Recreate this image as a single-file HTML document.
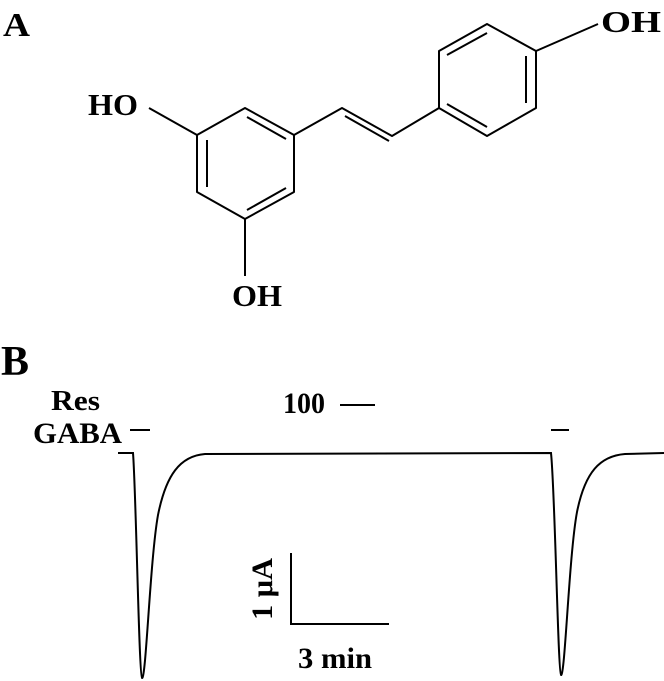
<!DOCTYPE html>
<html><head><style>
html,body{margin:0;padding:0;background:#fff;overflow:hidden}
svg{display:block}
text{font-family:"Liberation Serif","Times New Roman",serif;font-weight:bold;fill:#000}
</style></head><body>
<svg width="664" height="681" viewBox="0 0 664 681">
<text x="3" y="36" font-size="34" textLength="27" lengthAdjust="spacingAndGlyphs">A</text>
<text x="1" y="375" font-size="42" textLength="28" lengthAdjust="spacingAndGlyphs">B</text>
<g stroke="#000" stroke-width="2" fill="none" stroke-linejoin="round">
<polygon points="245,108 294,135 294,192 245,219 197,192 197,135"/>
<line x1="247" y1="117" x2="286" y2="139"/>
<line x1="207" y1="140" x2="207" y2="187"/>
<line x1="247" y1="210" x2="286" y2="188"/>
<line x1="197" y1="135" x2="149" y2="108"/>
<line x1="245" y1="219" x2="245" y2="276"/>
<polyline points="294,135 342,108 392,136 439,108"/>
<line x1="345" y1="116" x2="389" y2="141"/>
<polygon points="439,108 439,51 487,24 536,51 536,108 487,136"/>
<line x1="447" y1="55" x2="487" y2="33"/>
<line x1="526" y1="56" x2="526" y2="103"/>
<line x1="447" y1="104" x2="487" y2="127"/>
<line x1="536" y1="51" x2="598" y2="24"/>
</g>
<text x="88" y="115" font-size="31" textLength="50" lengthAdjust="spacingAndGlyphs">HO</text>
<text x="232" y="306" font-size="31" textLength="50" lengthAdjust="spacingAndGlyphs">OH</text>
<text x="601" y="32" font-size="31" textLength="60" lengthAdjust="spacingAndGlyphs">OH</text>

<text x="51" y="410" font-size="29" textLength="49" lengthAdjust="spacingAndGlyphs">Res</text>
<text x="283" y="413" font-size="30" textLength="42" lengthAdjust="spacingAndGlyphs">100</text>
<line x1="340" y1="405" x2="375" y2="405" stroke="#000" stroke-width="2"/>
<text x="33" y="443" font-size="30" textLength="89" lengthAdjust="spacingAndGlyphs">GABA</text>
<line x1="130" y1="430" x2="150" y2="430" stroke="#000" stroke-width="2"/>
<line x1="551" y1="430" x2="569" y2="430" stroke="#000" stroke-width="2"/>

<path d="M118,453 L133,453 C136,490 139,676 142,678 C146,680 150,560 158,515 C166,475 180,456 205,454 L551,453 C555,490 558,673 561,675 C565,677 569,555 577,512 C585,472 600,456 625,454 L664,453" stroke="#000" stroke-width="2" fill="none"/>

<polyline points="291,553 291,624 389,624" stroke="#000" stroke-width="2" fill="none"/>
<text transform="translate(272,589) rotate(-90)" text-anchor="middle" font-size="30" textLength="62" lengthAdjust="spacingAndGlyphs">1 μA</text>
<text x="298" y="668" font-size="30" textLength="74" lengthAdjust="spacingAndGlyphs">3 min</text>
</svg>
</body></html>
